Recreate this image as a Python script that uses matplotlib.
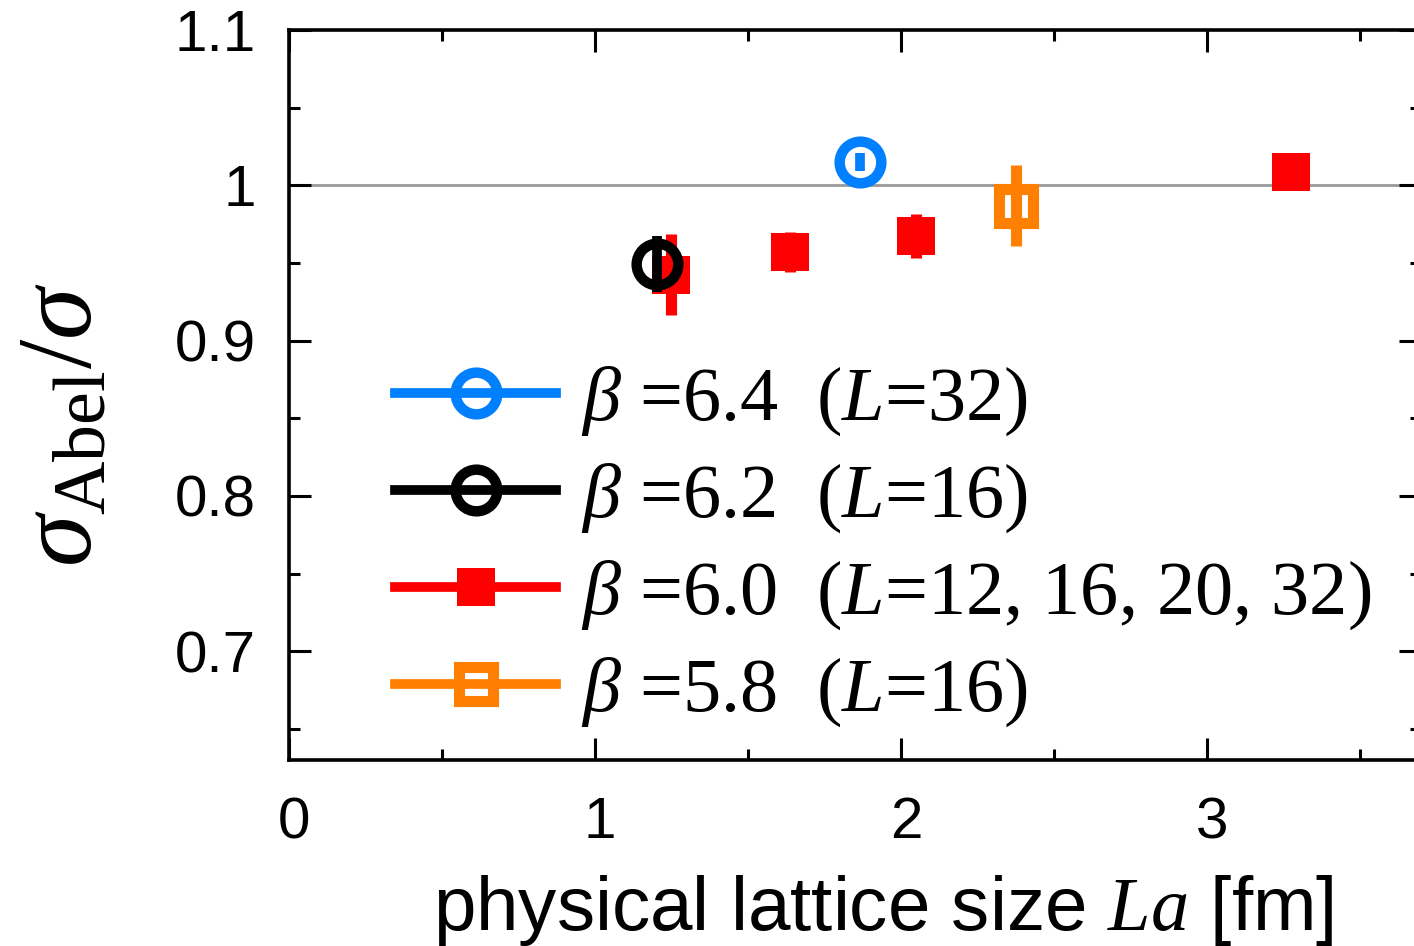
import matplotlib
matplotlib.use("Agg")
import matplotlib.pyplot as plt
from matplotlib.lines import Line2D
from matplotlib.ticker import MultipleLocator
from matplotlib.transforms import ScaledTranslation

plt.rcParams['font.family'] = ['Liberation Sans', 'DejaVu Sans']
plt.rcParams['mathtext.fontset'] = 'custom'
plt.rcParams['mathtext.rm'] = 'Liberation Serif'
plt.rcParams['mathtext.it'] = 'Liberation Serif:italic'
plt.rcParams['mathtext.bf'] = 'Liberation Serif:bold'

# ratio sigma_Abel / sigma vs physical lattice size La [fm]
x_b64 = [1.866]
y_b64 = [1.015]
e_b64 = [0.006]

x_b62 = [1.203]
y_b62 = [0.9495]
e_b62 = [0.018]

x_b60 = [1.248, 1.637, 2.049, 3.274]
y_b60 = [0.9424, 0.957, 0.9675, 1.0087]
e_b60 = [0.026, 0.013, 0.014, 0.005]

x_b58 = [2.376]
y_b58 = [0.9868]
e_b58 = [0.026]

labels = [r"$\beta$ =6.4  ($L$=32)",
          r"$\beta$ =6.2  ($L$=16)",
          r"$\beta$ =6.0  ($L$=12, 16, 20, 32)",
          r"$\beta$ =5.8  ($L$=16)"]

c_blue = '#0080ff'
c_black = '#000000'
c_red = '#ff0000'
c_orange = '#ff8000'

fig = plt.figure(figsize=(14.14, 9.46), dpi=100)
ax = fig.add_axes([0.2044, 0.1966, 0.8007, 0.7717])

ax.axhline(1.0, color='#999999', lw=2, zorder=1)

ax.errorbar(x_b60, y_b60, yerr=e_b60, fmt='s', color=c_red, ms=27,
            mew=0, elinewidth=8, capsize=0, zorder=3)
ax.errorbar(x_b58, y_b58, yerr=e_b58, fmt='s', color=c_orange, ms=25,
            mfc='none', mew=8, elinewidth=8, capsize=0, zorder=3)
ax.errorbar(x_b64, y_b64, yerr=e_b64, fmt='o', color=c_blue, ms=30,
            mfc='none', mew=7.5, elinewidth=7, capsize=0, zorder=4)
ax.errorbar(x_b62, y_b62, yerr=e_b62, fmt='o', color=c_black, ms=30,
            mfc='none', mew=7.5, elinewidth=7, capsize=0, zorder=5)

handles = [
    Line2D([], [], color=c_blue, lw=7, marker='o', ms=30, mfc='none', mew=7.5),
    Line2D([], [], color=c_black, lw=7, marker='o', ms=30, mfc='none', mew=7.5),
    Line2D([], [], color=c_red, lw=7, marker='s', ms=27, mew=0),
    Line2D([], [], color=c_orange, lw=7, marker='s', ms=25, mfc='none', mew=8),
]
ax.legend(handles, labels, loc='lower left', bbox_to_anchor=(0.067, 0.0),
          frameon=False, handlelength=2.1, handletextpad=0.33,
          labelspacing=0.31, borderaxespad=0,
          prop={'family': 'Liberation Serif', 'size': 55})

ax.set_xlim(0, 3.7)
ax.set_ylim(0.63, 1.1)
ax.xaxis.set_major_locator(MultipleLocator(1))
ax.xaxis.set_minor_locator(MultipleLocator(0.5))
ax.yaxis.set_minor_locator(MultipleLocator(0.05))
ax.set_yticks([0.7, 0.8, 0.9, 1.0, 1.1])
ax.set_yticklabels(['0.7', '0.8', '0.9', '1', '1.1'])

ax.tick_params(which='both', direction='in', top=True, right=True,
               labelsize=42, width=2.2)
ax.tick_params(which='major', length=16)
ax.tick_params(which='minor', length=8)
ax.tick_params(axis='x', pad=26)
ax.tick_params(axis='y', pad=24)
for s in ax.spines.values():
    s.set_linewidth(2.6)

# x tick labels sit slightly right of their ticks
shift = ScaledTranslation(5 / 100, 0, fig.dpi_scale_trans)
for lab in ax.get_xticklabels():
    lab.set_transform(lab.get_transform() + shift)

ax.set_xlabel(r"physical lattice size $La$ [fm]", fontsize=55)
ax.xaxis.set_label_coords(0.525, -0.155)
ax.set_ylabel(r"$\sigma_{\rm Abel}/\sigma$", fontsize=76)
ax.yaxis.set_label_coords(-0.155, 0.459)

fig.savefig("out.png", dpi=100)
